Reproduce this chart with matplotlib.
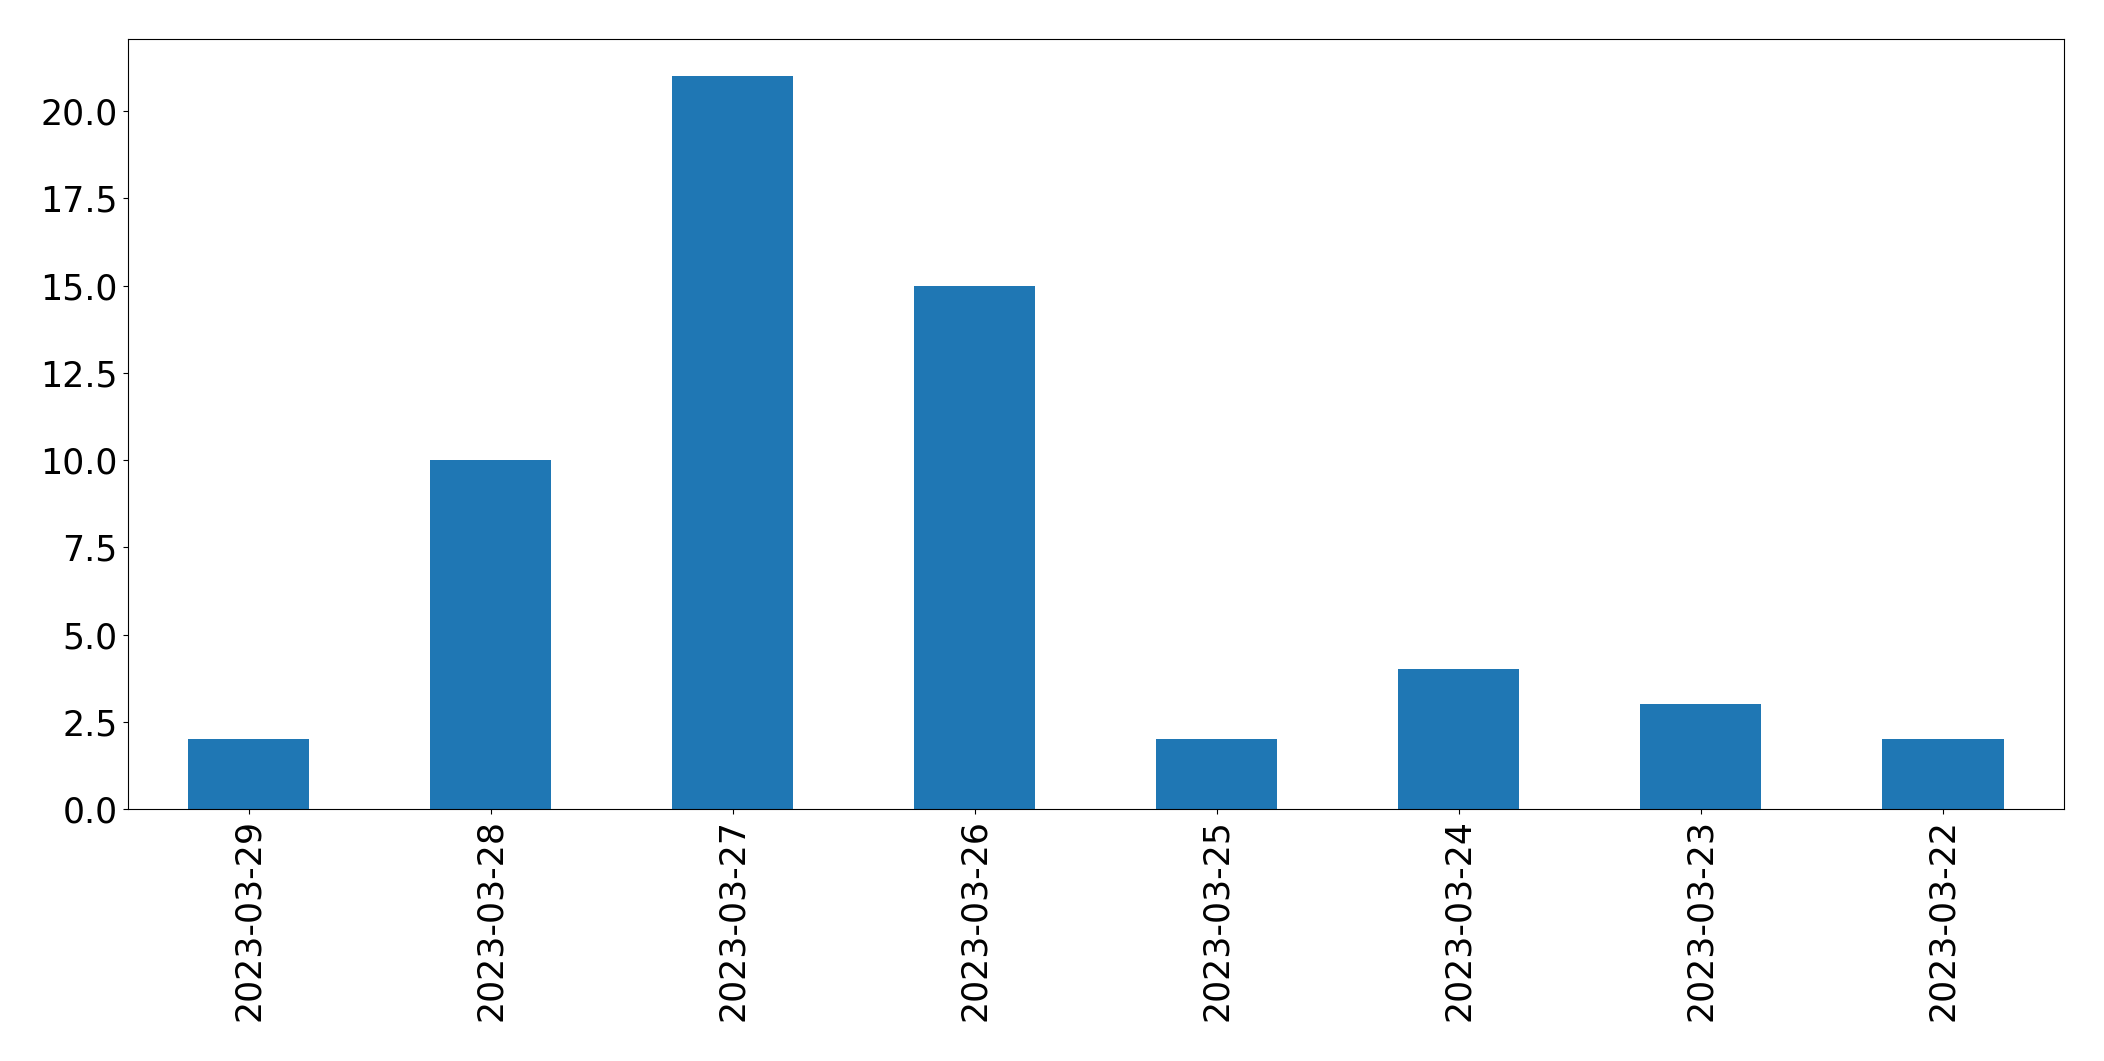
import pandas as pd
import matplotlib
matplotlib.use("Agg")
import matplotlib.pyplot as plt

dates = ["2023-03-29", "2023-03-28", "2023-03-27", "2023-03-26",
         "2023-03-25", "2023-03-24", "2023-03-23", "2023-03-22"]
counts = [2, 10, 21, 15, 2, 4, 3, 2]

s = pd.Series(counts, index=dates)

fig, ax = plt.subplots(1, 1, figsize=(21.04, 10.61), dpi=100)
s.plot(kind='bar', ax=ax, color='#1f77b4')
ax.tick_params(axis='both', labelsize=25)
fig.subplots_adjust(left=0.0606, right=0.981, bottom=0.2375, top=0.9628)

fig.savefig('out.png', dpi=100)
